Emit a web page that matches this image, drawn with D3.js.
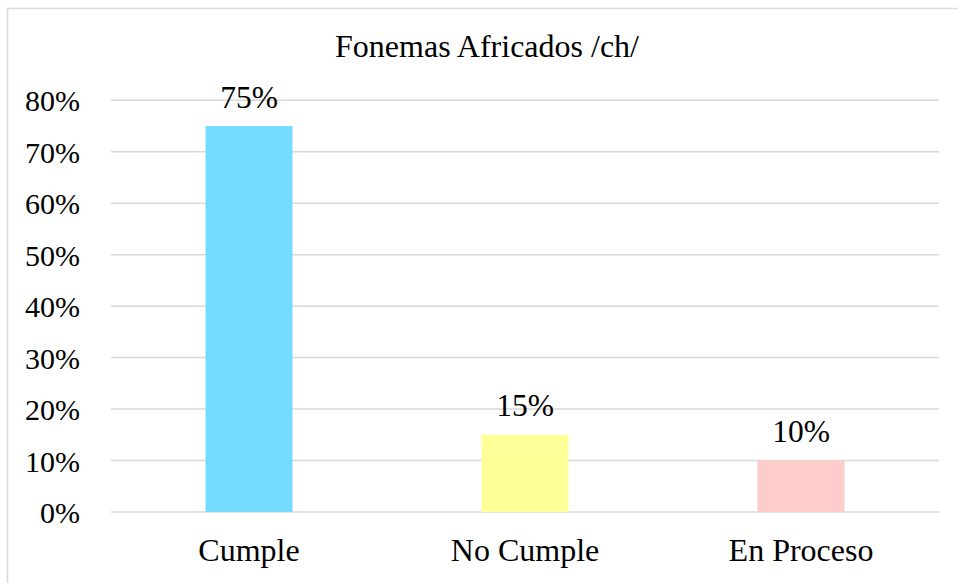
<!DOCTYPE html>
<html>
<head>
<meta charset="utf-8">
<script src="https://cdn.jsdelivr.net/npm/d3@7"></script>
</head>
<body style="margin:0">
<svg width="958" height="583" font-family="Liberation Serif"></svg>
<script>
const categories = ["Cumple", "No Cumple", "En Proceso"]
const values = [75, 15, 10]
const colors = ["#75dbff", "#ffff99", "#ffcccc"]
const yTicks = [0, 10, 20, 30, 40, 50, 60, 70, 80]
const title = "Fonemas Africados /ch/"

const width = 958, height = 583
const barW = 87

const svg = d3.select("svg")

// chart frame
svg.append("rect")
  .attr("x", 7.5)
  .attr("y", 8.5)
  .attr("width", width + 10)
  .attr("height", height + 10)
  .attr("fill", "none")
  .attr("stroke", "#d9d9d9")
  .attr("stroke-width", 1.5)

const x = d3.scaleBand()
  .domain(categories)
  .range([111, 939])

const y = d3.scaleLinear()
  .domain([0, 80])
  .range([512, 100.3])

// gridlines
svg.append("g")
  .selectAll("line")
  .data(yTicks)
  .enter()
  .append("line")
  .attr("x1", 111)
  .attr("x2", 939)
  .attr("y1", d => y(d))
  .attr("y2", d => y(d))
  .attr("stroke", "#d9d9d9")
  .attr("stroke-width", 1.5)

// y axis labels
const yAxis = svg.append("g")
  .attr("transform", "translate(80,0)")
  .call(d3.axisLeft(y).tickValues(yTicks).tickFormat(d => d + "%").tickSize(0).tickPadding(0))
yAxis.attr("font-family", "Liberation Serif").attr("font-size", 30)
yAxis.select(".domain").remove()
yAxis.selectAll("text")
  .attr("fill", "#000")
  .attr("dy", "0.35em")

// bars
svg.append("g")
  .selectAll("rect")
  .data(values)
  .enter()
  .append("rect")
  .attr("x", (d, i) => x(categories[i]) + x.bandwidth() / 2 - barW / 2)
  .attr("y", d => y(d))
  .attr("width", barW)
  .attr("height", d => y(0) - y(d))
  .attr("fill", (d, i) => colors[i])

// value labels
svg.append("g")
  .selectAll("text")
  .data(values)
  .enter()
  .append("text")
  .attr("x", (d, i) => x(categories[i]) + x.bandwidth() / 2)
  .attr("y", d => y(d) - 18.5)
  .attr("text-anchor", "middle")
  .attr("font-size", 31.5)
  .text(d => d + "%")

// x axis labels
const xAxis = svg.append("g")
  .attr("transform", "translate(0,512)")
  .call(d3.axisBottom(x).tickSize(0).tickPadding(0))
xAxis.attr("font-family", "Liberation Serif").attr("font-size", 32)
xAxis.select(".domain").remove()
xAxis.selectAll("text")
  .attr("fill", "#000")
  .attr("dy", null)
  .attr("y", 49)

// title
svg.append("text")
  .attr("x", 487)
  .attr("y", 57)
  .attr("text-anchor", "middle")
  .attr("font-size", 32)
  .text(title)
</script>
</body>
</html>
